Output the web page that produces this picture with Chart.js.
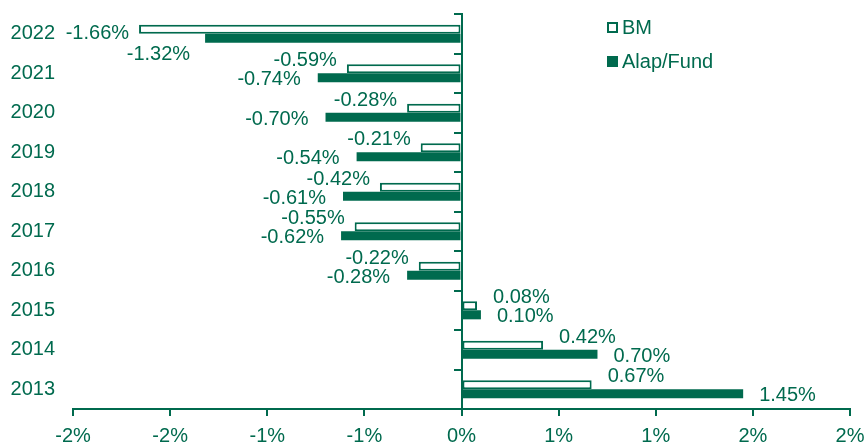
<!DOCTYPE html>
<html lang="en">
<head>
  <meta charset="UTF-8">
  <title>BM vs Alap/Fund</title>
  <script src="https://cdn.jsdelivr.net/npm/chart.js"></script>
  <style>
    html, body { margin: 0; padding: 0; background: #fff; }
    .chart-box { width: 867px; height: 444px; }
  </style>
</head>
<body>

  <div class="chart-box">
    <canvas id="perfChart"></canvas>
  </div>

  <script>
    const years = ['2022', '2021', '2020', '2019', '2018', '2017', '2016', '2015', '2014', '2013'];
    const bmValues = [-1.66, -0.59, -0.28, -0.21, -0.42, -0.55, -0.22, 0.08, 0.42, 0.67];
    const fundValues = [-1.32, -0.74, -0.70, -0.54, -0.61, -0.62, -0.28, 0.10, 0.70, 1.45];
    const seriesNames = ['BM', 'Alap/Fund'];

    const green = '#006A4E';
    const fontFamily = 'Arial, "Liberation Sans", sans-serif';

    // value labels next to the bar ends
    const valueLabels = {
      id: 'valueLabels',
      afterDatasetsDraw(chart) {
        const ctx = chart.ctx;
        ctx.save();
        ctx.font = '20px ' + fontFamily;
        ctx.fillStyle = green;
        ctx.textBaseline = 'middle';
        chart.data.datasets.forEach((ds, di) => {
          const meta = chart.getDatasetMeta(di);
          meta.data.forEach((bar, i) => {
            const v = ds.data[i];
            const txt = v.toFixed(2) + '%';
            let dy = di === 0 ? -8 : 2;
            let gap = di === 0 ? 10 : 17;
            // top row: no room above, so BM sits beside its bar and Fund drops below
            if (i === 0) {
              dy = di === 0 ? 4 : 16;
              gap = di === 0 ? 10 : 15;
            }
            if (v < 0) {
              ctx.textAlign = 'right';
              ctx.fillText(txt, bar.x - gap, bar.y + dy);
            } else {
              ctx.textAlign = 'left';
              ctx.fillText(txt, bar.x + 16, bar.y + dy);
            }
          });
        });
        ctx.restore();
      }
    };

    // small legend in the top right corner
    const cornerLegend = {
      id: 'cornerLegend',
      afterDraw(chart) {
        const ctx = chart.ctx;
        ctx.save();
        ctx.font = '20px ' + fontFamily;
        ctx.textBaseline = 'middle';
        ctx.textAlign = 'left';
        const x = 607;
        const rows = [27, 61];
        seriesNames.forEach((name, i) => {
          const y = rows[i];
          if (i === 0) {
            ctx.fillStyle = '#fff';
            ctx.fillRect(x, y - 5, 10, 10);
            ctx.strokeStyle = green;
            ctx.lineWidth = 2;
            ctx.strokeRect(x + 1, y - 4, 9, 9);
          } else {
            ctx.fillStyle = green;
            ctx.fillRect(x, y - 5, 11, 11);
          }
          ctx.fillStyle = green;
          ctx.fillText(name, x + 15, y + 1);
        });
        ctx.restore();
      }
    };

    new Chart(document.getElementById('perfChart').getContext('2d'), {
      type: 'bar',
      data: {
        labels: years,
        datasets: [
          {
            label: seriesNames[0],
            data: bmValues,
            backgroundColor: '#fff',
            borderColor: green,
            borderWidth: 2,
            borderSkipped: false,
            categoryPercentage: 0.46,
            barPercentage: 1
          },
          {
            label: seriesNames[1],
            data: fundValues,
            backgroundColor: green,
            borderWidth: 0,
            categoryPercentage: 0.46,
            barPercentage: 1
          }
        ]
      },
      options: {
        indexAxis: 'y',
        responsive: true,
        maintainAspectRatio: false,
        animation: false,
        layout: { padding: { left: 8, top: 14, right: 17, bottom: 0 } },
        plugins: {
          legend: { display: false },
          tooltip: { enabled: false }
        },
        scales: {
          x: {
            min: -2,
            max: 2,
            afterFit: s => { s.paddingLeft = 0; s.paddingRight = 0; s.height = 35; },
            ticks: {
              stepSize: 0.5,
              color: green,
              padding: 10,
              font: { size: 20, family: fontFamily, lineHeight: 1 },
              callback: v => Number(v).toFixed(0) + '%'
            },
            grid: {
              drawOnChartArea: false,
              drawTicks: true,
              tickLength: 7,
              color: green,
              lineWidth: 2
            },
            border: { display: true, color: green, width: 2 }
          },
          y: {
            afterFit: s => { s.paddingTop = 0; s.paddingBottom = 0; s.width = 65; },
            ticks: {
              color: green,
              padding: 18,
              font: { size: 20, family: fontFamily }
            },
            grid: { display: false, drawTicks: false },
            border: { display: false }
          },
          y0: {
            axis: 'y',
            type: 'category',
            position: { x: 0 },
            offset: true,
            afterFit: s => { s.paddingTop = 0; s.paddingBottom = 0; },
            ticks: { display: false },
            grid: {
              offset: true,
              drawOnChartArea: false,
              drawTicks: true,
              tickLength: 7,
              color: green,
              lineWidth: 2
            },
            border: { display: true, color: green, width: 2 }
          }
        }
      },
      plugins: [valueLabels, cornerLegend]
    });
  </script>

</body>
</html>
